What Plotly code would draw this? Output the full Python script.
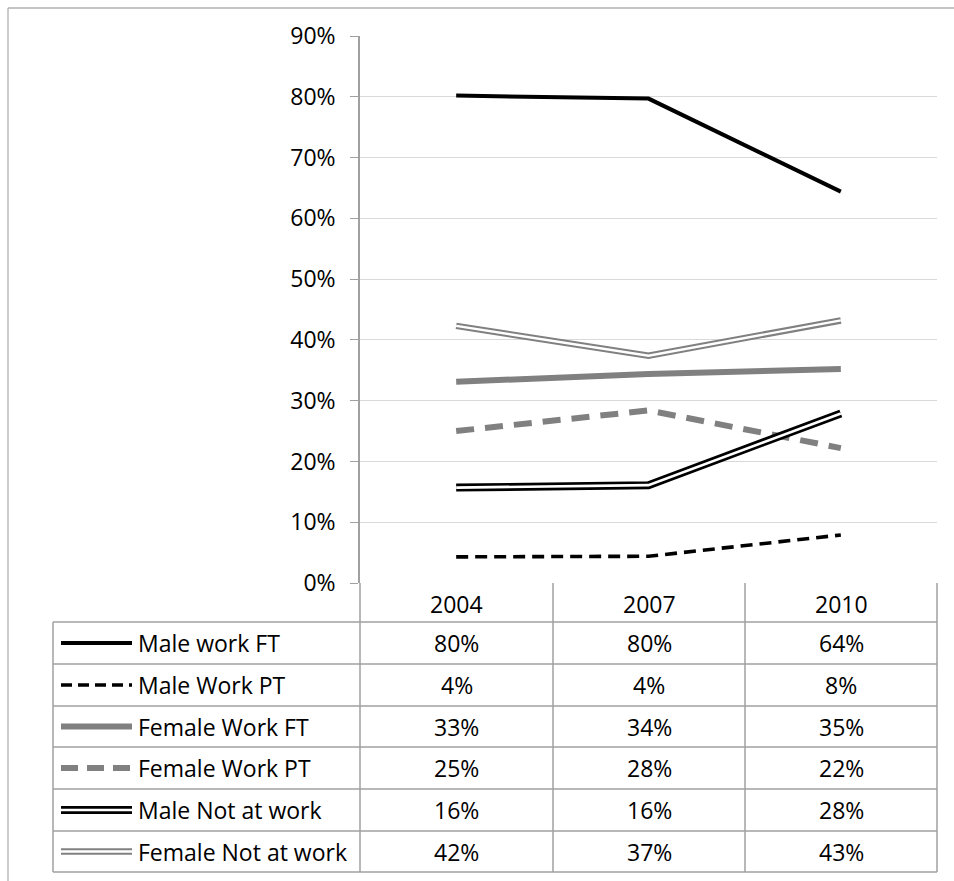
import plotly.graph_objects as go

W, H = 954, 881

years = ["2004", "2007", "2010"]
series_names = ["Male work FT", "Male Work PT", "Female Work FT", "Female Work PT",
                "Male Not at work", "Female Not at work"]
male_ft = [80.2, 79.7, 64.4]
male_pt = [4.3, 4.4, 7.9]
female_ft = [33.1, 34.4, 35.2]
female_pt = [25.0, 28.4, 22.2]
male_naw = [15.7, 16.1, 27.9]
female_naw = [42.3, 37.4, 43.2]
y_ticks = [0, 10, 20, 30, 40, 50, 60, 70, 80, 90]

all_series = [male_ft, male_pt, female_ft, female_pt, male_naw, female_naw]

GRAY = "#808080"
# styles: list of (color, width, dash) layers drawn bottom to top
styles = [
    [("black", 4, "solid")],
    [("black", 3.6, "12px,7px")],
    [(GRAY, 6, "solid")],
    [(GRAY, 6, "18px,11px")],
    [("black", 8, "solid"), ("white", 2.6, "solid")],
    [(GRAY, 6.5, "solid"), ("white", 2.4, "solid")],
]
key_dash = {"12px,7px": "11px,6px", "18px,11px": "17px,9px"}

def px(x):
    return x / W

def py(y):
    return 1 - y / H

X0, X1 = 360, 937
Y_TOP, Y_BOT = 36, 583

fig = go.Figure()

xs = list(range(len(years)))
for name, vals, st in zip(series_names, all_series, styles):
    for c, w, d in st:
        fig.add_trace(go.Scatter(
            x=xs, y=vals, mode="lines", name=name, showlegend=False,
            line=dict(color=c, width=w, dash=d),
        ))

shapes = []
annotations = []
GRID = "#a0a0a0"

# outer frame
shapes.append(dict(type="line", xref="paper", yref="paper", x0=px(8), x1=px(954), y0=py(8), y1=py(8),
                   line=dict(color="#b0b0b0", width=1.3)))
shapes.append(dict(type="line", xref="paper", yref="paper", x0=px(8), x1=px(8), y0=py(8), y1=py(881),
                   line=dict(color="#b0b0b0", width=1.3)))

row_lines = [622, 664, 706, 747, 789, 831, 872]
col_lines = [553, 745, 937]
T_LEFT = 53

for yl in row_lines:
    shapes.append(dict(type="line", xref="paper", yref="paper", x0=px(T_LEFT), x1=px(X1),
                       y0=py(yl), y1=py(yl), line=dict(color=GRID, width=1.5)))
shapes.append(dict(type="line", xref="paper", yref="paper", x0=px(T_LEFT), x1=px(T_LEFT),
                   y0=py(622), y1=py(872), line=dict(color=GRID, width=1.5)))
shapes.append(dict(type="line", xref="paper", yref="paper", x0=px(X0), x1=px(X0),
                   y0=py(583), y1=py(872), line=dict(color=GRID, width=1.5)))
for xl in col_lines:
    shapes.append(dict(type="line", xref="paper", yref="paper", x0=px(xl), x1=px(xl),
                       y0=py(583), y1=py(872), line=dict(color=GRID, width=1.5)))

FONT = "Open Sans"
TXT = dict(family=FONT, size=23, color="black")

col_centers = [(X0 + col_lines[0]) / 2, (col_lines[0] + col_lines[1]) / 2, (col_lines[1] + col_lines[2]) / 2]
for yr, cx in zip(years, col_centers):
    annotations.append(dict(xref="paper", yref="paper", x=px(cx), y=py(604), text=yr,
                            showarrow=False, font=TXT, xanchor="center", yanchor="middle"))

for r, (name, vals, st) in enumerate(zip(series_names, all_series, styles)):
    cy = (row_lines[r] + row_lines[r + 1]) / 2
    for c, w, d in st:
        shapes.append(dict(type="line", xref="paper", yref="paper", x0=px(61), x1=px(132),
                           y0=py(cy), y1=py(cy),
                           line=dict(color=c, width=w, dash=key_dash.get(d, d))))
    annotations.append(dict(xref="paper", yref="paper", x=px(136), y=py(cy), text=name,
                            showarrow=False, font=TXT, xanchor="left", yanchor="middle"))
    for v, cx in zip(vals, col_centers):
        annotations.append(dict(xref="paper", yref="paper", x=px(cx), y=py(cy),
                                text=f"{int(round(v))}%", showarrow=False, font=TXT,
                                xanchor="center", yanchor="middle"))

fig.update_layout(
    width=W, height=H,
    margin=dict(l=0, r=0, t=0, b=0, pad=0),
    paper_bgcolor="white", plot_bgcolor="white",
    shapes=shapes, annotations=annotations,
    xaxis=dict(domain=[px(X0), px(X1)], range=[-0.5, 2.5], showticklabels=False,
               showgrid=False, zeroline=False, showline=False, ticks="", automargin=False),
    yaxis=dict(domain=[py(Y_BOT), py(Y_TOP)], range=[0, 90], tickvals=y_ticks,
               ticktext=[f"{t}%" for t in y_ticks], showgrid=True, gridcolor="#d9d9d9",
               gridwidth=1.2, zeroline=False, showline=True, linecolor=GRID, linewidth=1.5,
               ticks="outside", ticklen=8, tickcolor=GRID, tickwidth=1.2, automargin=False,
               tickfont=dict(family=FONT, size=23, color="black"), ticklabelstandoff=10),
)

fig.write_html(
    "out.html",
    config={"displayModeBar": False},
    post_script="document.body.style.margin='0';document.body.style.overflow='hidden';",
)
